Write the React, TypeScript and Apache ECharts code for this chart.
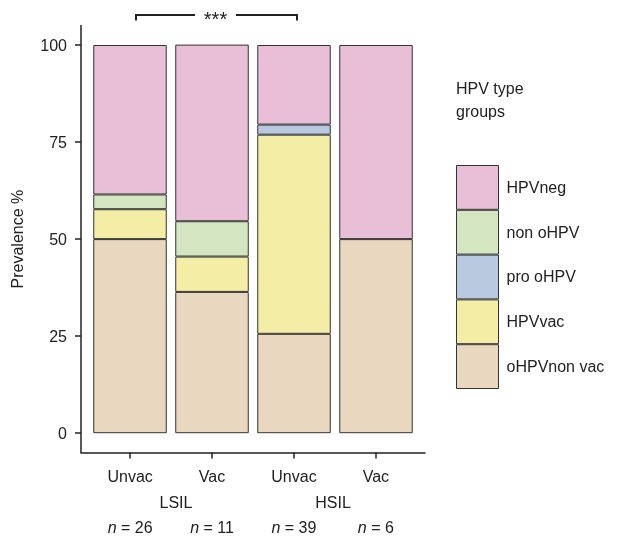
import React, { useEffect, useRef } from "react";
import * as echarts from "echarts";

const categories = ["Unvac", "Vac", "Unvac", "Vac"];
const positions = [1, 2, 3, 4];
const groupLabels = ["LSIL", "HSIL"];
const nValues = [26, 11, 39, 6];
const yTicks = [0, 25, 50, 75, 100];

const seriesNames = ["oHPVnon vac", "HPVvac", "pro oHPV", "non oHPV", "HPVneg"];
const oHPVnonVac = [50.0, 36.4, 25.6, 50.0];
const hpvVac = [7.7, 9.1, 51.3, 0];
const proOHPV = [0, 0, 2.6, 0];
const nonOHPV = [3.8, 9.1, 0, 0];
const hpvNeg = [38.5, 45.5, 20.5, 50.0];
const legendOrder = ["HPVneg", "non oHPV", "pro oHPV", "HPVvac", "oHPVnon vac"];

const colors: Record<string, string> = {
  "oHPVnon vac": "#e9d8bf",
  HPVvac: "#f4eda6",
  "pro oHPV": "#b9c9df",
  "non oHPV": "#d4e5c2",
  HPVneg: "#e9bfd8",
};

const FONT = "'Liberation Sans', Arial, Helvetica, sans-serif";

export default function App() {
  const ref = useRef<HTMLDivElement>(null);
  useEffect(() => {
    if (!ref.current) return;
    const chart = echarts.init(ref.current, null, { renderer: "svg" });
    const valuesList = [oHPVnonVac, hpvVac, proOHPV, nonOHPV, hpvNeg];
    const series = seriesNames.map((name, i) => ({
      name,
      type: "bar",
      stack: "total",
      xAxisIndex: 0,
      yAxisIndex: 0,
      barWidth: 73.5,
      data: valuesList[i].map((v) => (v === 0 ? "-" : v)),
      itemStyle: { color: colors[name], borderColor: "#333", borderWidth: 1 },
      emphasis: { disabled: true },
    }));
    const axisColor = "#222";
    const txt = { fontSize: 16, color: axisColor, fontFamily: FONT, lineHeight: 18 };
    chart.setOption({
      animation: false,
      textStyle: { fontFamily: FONT },
      grid: [
        { left: 89, top: 25.6, width: 328, height: 427, outerBoundsMode: "none", containLabel: false },
        { left: 81, top: 25.6, width: 344, height: 427, outerBoundsMode: "none", containLabel: false },
      ],
      xAxis: [
        {
          type: "category",
          gridIndex: 0,
          data: categories.map((c, i) => `${c}${i}`),
          axisLine: { show: false },
          axisTick: { show: false },
          axisLabel: { show: false },
        },
        {
          type: "value",
          gridIndex: 1,
          min: 0.4,
          max: 4.6,
          splitLine: { show: false },
          axisLine: { show: true, onZero: false, lineStyle: { color: axisColor, width: 1.5 } },
          axisTick: { show: true, length: 6, customValues: positions, lineStyle: { color: axisColor, width: 1.5 } },
          axisLabel: {
            customValues: positions,
            margin: 15,
            fontSize: 16,
            color: axisColor,
            lineHeight: 18,
            fontFamily: FONT,
            formatter: (v: number) => {
              const i = Math.round(v) - 1;
              return `{t|${categories[i]}}\n{gap| }\n{it|n}{t| = ${nValues[i]}}`;
            },
            rich: {
              t: { ...txt },
              gap: { ...txt, lineHeight: 33 },
              it: { ...txt, fontStyle: "italic" },
            },
          },
        },
      ],
      yAxis: [
        {
          type: "value",
          gridIndex: 0,
          min: -5,
          max: 105,
          show: false,
          splitLine: { show: false },
        },
        {
          type: "value",
          gridIndex: 1,
          min: -5,
          max: 105,
          name: "Prevalence %",
          nameLocation: "middle",
          nameGap: 56,
          nameTextStyle: { fontSize: 16, color: axisColor, fontFamily: FONT },
          splitLine: { show: false },
          axisLine: { show: true, onZero: false, lineStyle: { color: axisColor, width: 1.5 } },
          axisTick: { show: true, length: 6, customValues: yTicks, lineStyle: { color: axisColor, width: 1.5 } },
          axisLabel: { customValues: yTicks, margin: 14, fontSize: 16, color: axisColor, fontFamily: FONT },
        },
      ],
      legend: {
        orient: "vertical",
        left: 451,
        top: 160,
        itemWidth: 42,
        itemHeight: 43.8,
        itemGap: 0,
        icon: "rect",
        data: legendOrder,
        selectedMode: false,
        textStyle: { fontSize: 16, color: axisColor, fontFamily: FONT, padding: [0, 0, 0, 3] },
        itemStyle: { borderColor: "#333", borderWidth: 1 },
      },
      graphic: [
        {
          type: "text",
          left: 456,
          top: 77,
          style: { text: "HPV type\ngroups", fontSize: 16, lineHeight: 23, fill: axisColor, fontFamily: FONT },
        },
        {
          type: "text",
          x: 176,
          y: 502,
          style: { text: groupLabels[0], fontSize: 16, fill: axisColor, fontFamily: FONT, align: "center", verticalAlign: "middle" },
        },
        {
          type: "text",
          x: 333,
          y: 502,
          style: { text: groupLabels[1], fontSize: 16, fill: axisColor, fontFamily: FONT, align: "center", verticalAlign: "middle" },
        },
        {
          type: "polyline",
          shape: { points: [[136, 20.5], [136, 15], [195, 15]] },
          style: { stroke: axisColor, lineWidth: 2, fill: null },
        },
        {
          type: "polyline",
          shape: { points: [[236, 15], [297, 15], [297, 20.5]] },
          style: { stroke: axisColor, lineWidth: 2, fill: null },
        },
        {
          type: "text",
          x: 215.5,
          y: 19,
          style: { text: "***", fontSize: 20, fill: axisColor, fontFamily: FONT, align: "center", verticalAlign: "middle" },
        },
      ],
      series,
    });
    return () => chart.dispose();
  }, []);
  return <div ref={ref} style={{ position: "fixed", left: 0, top: 0, width: 623, height: 537 }} />;
}
